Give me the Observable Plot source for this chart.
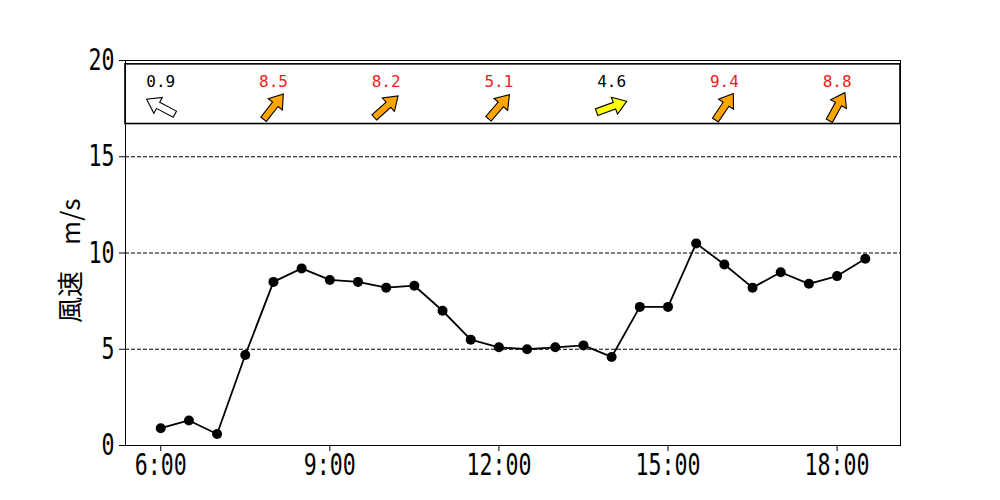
<!DOCTYPE html>
<html>
<head>
<meta charset="utf-8">
<script src="https://cdn.jsdelivr.net/npm/d3@7"></script>
<script src="https://cdn.jsdelivr.net/npm/@observablehq/plot@0.6"></script>
<style>
  html, body { margin: 0; padding: 0; background: white; }
  #chart { width: 1000px; height: 500px; }
</style>
</head>
<body>
<div id="chart"></div>
<script>
// ---- data ----
const times = ["6:00","6:30","7:00","7:30","8:00","8:30","9:00","9:30","10:00","10:30",
  "11:00","11:30","12:00","12:30","13:00","13:30","14:00","14:30","15:00","15:30",
  "16:00","16:30","17:00","17:30","18:00","18:30"];
const speeds = [0.9, 1.3, 0.6, 4.7, 8.5, 9.2, 8.6, 8.5, 8.2, 8.3,
  7.0, 5.5, 5.1, 5.0, 5.1, 5.2, 4.6, 7.2, 7.2, 10.5,
  9.4, 8.2, 9.0, 8.4, 8.8, 9.7];
const arrowTimes = ["6:00","8:00","10:00","12:00","14:00","16:00","18:00"];
const arrowSpeeds = [0.9, 8.5, 8.2, 5.1, 4.6, 9.4, 8.8];
const arrowDirs = [118, 218, 228, 221, 250, 214, 209]; // wind "from" direction, degrees
const xTicks = ["6:00","9:00","12:00","15:00","18:00"];
const yTicks = [0, 5, 10, 15, 20];
const yLabel = "風速　m/s";

const toH = s => { const [h, m] = s.split(":").map(Number); return h + m / 60; };
const fmtH = h => `${Math.floor(h)}:${String(Math.round((h % 1) * 60)).padStart(2, "0")}`;

const series = times.map((t, i) => ({t: toH(t), v: speeds[i]}));
const arrows = arrowTimes.map((t, i) => ({t: toH(t), v: arrowSpeeds[i], dir: arrowDirs[i]}));

const mono = "'DejaVu Sans Mono', monospace";

function arrowSymbol(dirFrom) {
  const bearing = (dirFrom + 180) % 360;        // direction the arrow points to
  const th = (90 - bearing) * Math.PI / 180;      // math angle
  const c = Math.cos(th), s = Math.sin(th);
  const pts = [[-16,-3.5],[3,-3.5],[3,-9],[16,0],[3,9],[3,3.5],[-16,3.5]];
  return {
    draw(ctx) {
      pts.forEach(([x, y], k) => {
        const px = x * c - y * s, py = -(x * s + y * c);
        if (k === 0) ctx.moveTo(px, py); else ctx.lineTo(px, py);
      });
      ctx.closePath();
    }
  };
}
const arrowFill = v => v < 1 ? "white" : v < 5 ? "#ffff00" : "#ffa500";
const labelFill = v => v >= 5 ? "#ee1c1c" : "black";

const xDomain = [5.375, 19.125];

const chart = Plot.plot({
  width: 1000,
  height: 500,
  marginLeft: 125,
  marginRight: 100,
  marginTop: 60,
  marginBottom: 55,
  style: {background: "white", fontFamily: mono, color: "black"},
  x: {domain: xDomain},
  y: {domain: [0, 20]},
  marks: [
    Plot.ruleY([5, 10, 15], {stroke: "black", strokeWidth: 1, strokeDasharray: "4,2"}),
    Plot.line(series, {x: "t", y: "v", stroke: "black", strokeWidth: 1.8}),
    Plot.dot(series, {x: "t", y: "v", r: 5, fill: "black"}),
    Plot.rect([0], {x1: () => xDomain[0], x2: () => xDomain[1], y1: () => 16.7, y2: () => 19.8,
      fill: "white", stroke: "black", strokeWidth: 1.6}),
    ...arrows.map(a => Plot.dot([a], {x: "t", y: () => 17.6, r: 10, symbol: arrowSymbol(a.dir),
      fill: arrowFill(a.v), stroke: "black", strokeWidth: 1.1})),
    Plot.text(arrows, {x: "t", y: () => 18.9, text: d => d.v.toFixed(1), ariaLabel: "arrow-label",
      fill: d => labelFill(d.v), fontSize: 16, fontFamily: mono}),
    Plot.frame({stroke: "black", strokeWidth: 1}),
    Plot.axisX(xTicks.map(toH), {tickFormat: fmtH, fontSize: 30, tickSize: 6, tickPadding: 2,
      label: null, fontFamily: mono}),
    Plot.axisY(yTicks, {fontSize: 30, tickSize: 6, tickPadding: 5, label: null, fontFamily: mono}),
    Plot.text([yLabel], {frameAnchor: "left", y: () => 9.6, dx: -54, rotate: -90, textAnchor: "middle",
      text: d => d, fontSize: 26, fontFamily: "'Noto Sans CJK JP', " + mono, fill: "black"})
  ]
});
document.getElementById("chart").appendChild(chart);

// condense the monospace labels horizontally
function condense(selector, factor) {
  chart.querySelectorAll(selector).forEach(t => {
    const w = t.getComputedTextLength();
    t.setAttribute("textLength", (w * factor).toFixed(1));
    t.setAttribute("lengthAdjust", "spacingAndGlyphs");
  });
}
condense('g[aria-label="x-axis tick label"] text, g[aria-label="y-axis tick label"] text', 0.72);
condense('g[aria-label="arrow-label"] text', 0.9);
</script>
</body>
</html>
